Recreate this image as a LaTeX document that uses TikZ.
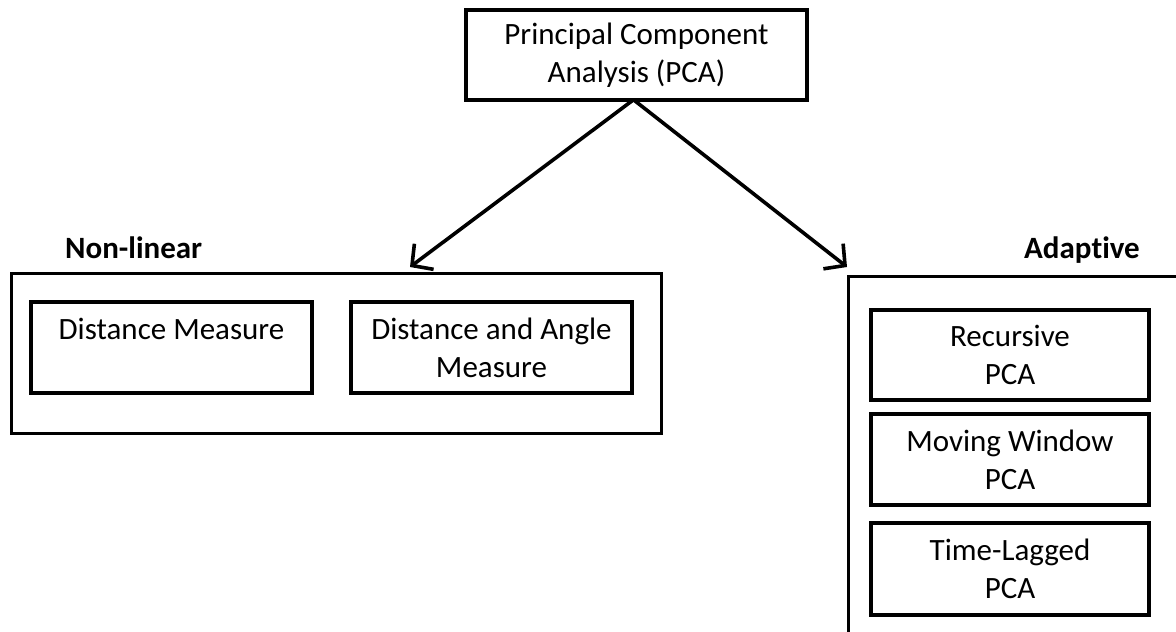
\documentclass[tikz,border=0pt]{standalone}
\usepackage{fontspec}
\setmainfont[Ligatures={NoCommon}]{Carlito}
\usetikzlibrary{arrows.meta}

\tikzset{
  x=1pt, y=-1pt,
  groupbox/.style={draw=black, line width=3pt},
  itembox/.style={draw=black, line width=4pt, inner sep=0pt, align=center,
    font=\fontsize{31}{38}\selectfont},
  grouplabel/.style={anchor=base west, inner sep=0pt,
    font=\fontsize{31}{38}\selectfont\bfseries},
  link/.style={line width=3.6pt, -{Straight Barb[length=15pt,width=32pt]}}
}

\begin{document}
\begin{tikzpicture}
  \clip (0,0) rectangle (1176,632);
  \fill[white] (0,0) rectangle (1176,632);

  % root method
  \node[itembox, line width=3.5pt, minimum width=341pt, minimum height=90pt]
    (pca) at (636.5,55) {Principal Component\\Analysis (PCA)};

  % non-linear group
  \draw[groupbox] (11,273) rectangle (661,433);
  \node[grouplabel] (nl) at (65,258) {Non-linear};
  \node[itembox, minimum width=281pt, minimum height=91pt]
    (dm) at (171.5,347.5) {Distance Measure\\\phantom{M}};
  \node[itembox, minimum width=281pt, minimum height=91pt]
    (dam) at (491.5,347.5) {Distance and Angle\\Measure};

  % adaptive group
  \draw[groupbox] (1200,276) -- (848,276) -- (848,660);
  \node[grouplabel] (ad) at (1024,258) {Adaptive};
  \node[itembox, minimum width=278pt, minimum height=90pt]
    (rec) at (1010,355) {Recursive\\PCA};
  \node[itembox, minimum width=278pt, minimum height=91pt]
    (mw) at (1010,459.5) {Moving Window\\PCA};
  \node[itembox, minimum width=278pt, minimum height=92pt]
    (tl) at (1010,569) {Time-Lagged\\PCA};

  % connectors
  \coordinate (src) at ([xshift=-3pt,yshift=2pt]pca.south);
  \coordinate (nltip) at (410,267);
  \coordinate (adtip) at (847,267);
  \draw[link] (src) -- (nltip);
  \draw[link] (src) -- (adtip);
\end{tikzpicture}
\end{document}
